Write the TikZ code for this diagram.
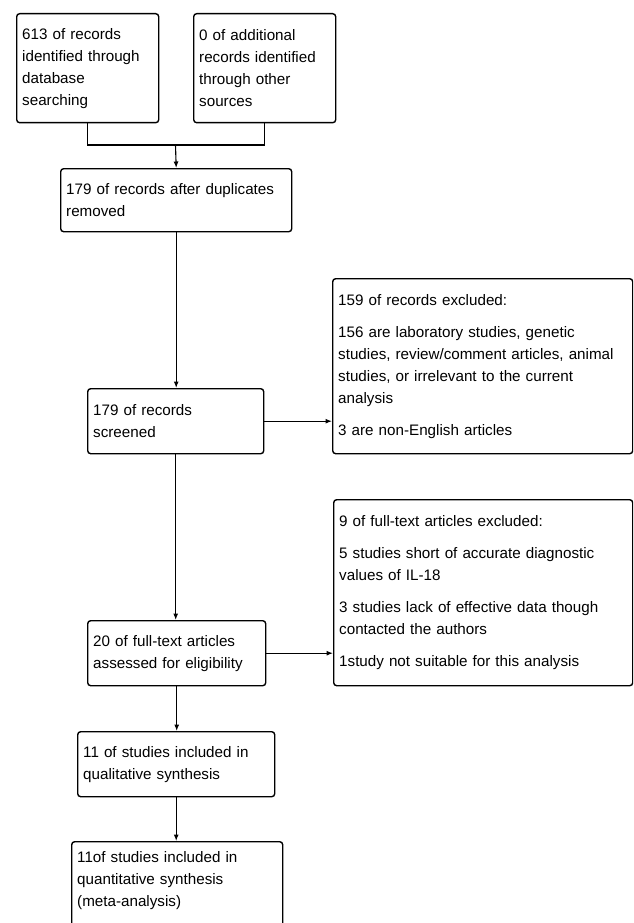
\documentclass[tikz,border=0pt]{standalone}
\usepackage{fontspec}
\setmainfont{Liberation Sans}
\usetikzlibrary{arrows.meta}

\begin{document}
\begin{tikzpicture}[x=1pt, y=-1pt,
    box/.style={draw, line width=1.4pt, rounded corners=3pt, anchor=north west, align=left,
        inner xsep=5.5pt, inner ysep=0pt, font=\fontsize{15.2}{22}\selectfont},
    link/.style={line width=1.1pt},
    arr/.style={link, -{Latex[length=6.5pt, width=5pt]}}]
    \clip (0,0) rectangle (633,923);

    % Identification
    \node[box, text width=131pt, minimum height=109pt] (dbsearch) at (16,13)
        {613 of records\\identified through\\database\\searching};
    \node[box, text width=131pt, minimum height=109pt] (othersrc) at (193,13)
        {0 of additional\\records identified\\through other\\sources};
    \node[box, text width=220pt, minimum height=63pt] (dedup) at (60,168)
        {179 of records after duplicates\\removed};

    % Screening and eligibility
    \node[box, text width=165pt, minimum height=65pt] (screened) at (87,388)
        {179 of records\\screened};
    \node[box, text width=289pt, minimum height=175pt] (excl1) at (332,278)
        {159 of records excluded:\\[10pt]
         156 are laboratory studies, genetic\\studies, review/comment articles, animal\\studies, or irrelevant to the current\\analysis\\[10pt]
         3 are non-English articles};
    \node[box, text width=167pt, minimum height=65pt] (fulltext) at (87,620)
        {20 of full-text articles\\assessed for eligibility};
    \node[box, text width=288pt, minimum height=186pt] (excl2) at (333,499)
        {9 of full-text articles excluded:\\[10pt]
         5 studies short of accurate diagnostic\\values of IL-18\\[10pt]
         3 studies lack of effective data though\\contacted the authors\\[10pt]
         1study not suitable for this analysis};

    % Included
    \node[box, text width=186pt, minimum height=65pt] (qual) at (77,731)
        {11 of studies included in\\qualitative synthesis};
    \node[box, text width=200pt, inner ysep=10pt, text depth=70pt] (quant) at (71,841)
        {11of studies included in\\quantitative synthesis\\(meta-analysis)};

    % Connectors
    \coordinate (join) at (175.5,145);
    \draw[link] (dbsearch.south) |- (join) -| (othersrc.south);
    \draw[arr] (join) -- (dedup.north);
    \draw[arr] (dedup.south) -- (dedup.south |- screened.north);
    \draw[arr] (screened.east) -- (screened.east -| excl1.west);
    \draw[arr] (screened.south) -- (screened.south |- fulltext.north);
    \draw[arr] (fulltext.east) -- (fulltext.east -| excl2.west);
    \draw[arr] (fulltext.south) -- (fulltext.south |- qual.north);
    \draw[arr] (qual.south) -- (qual.south |- quant.north);
\end{tikzpicture}
\end{document}
